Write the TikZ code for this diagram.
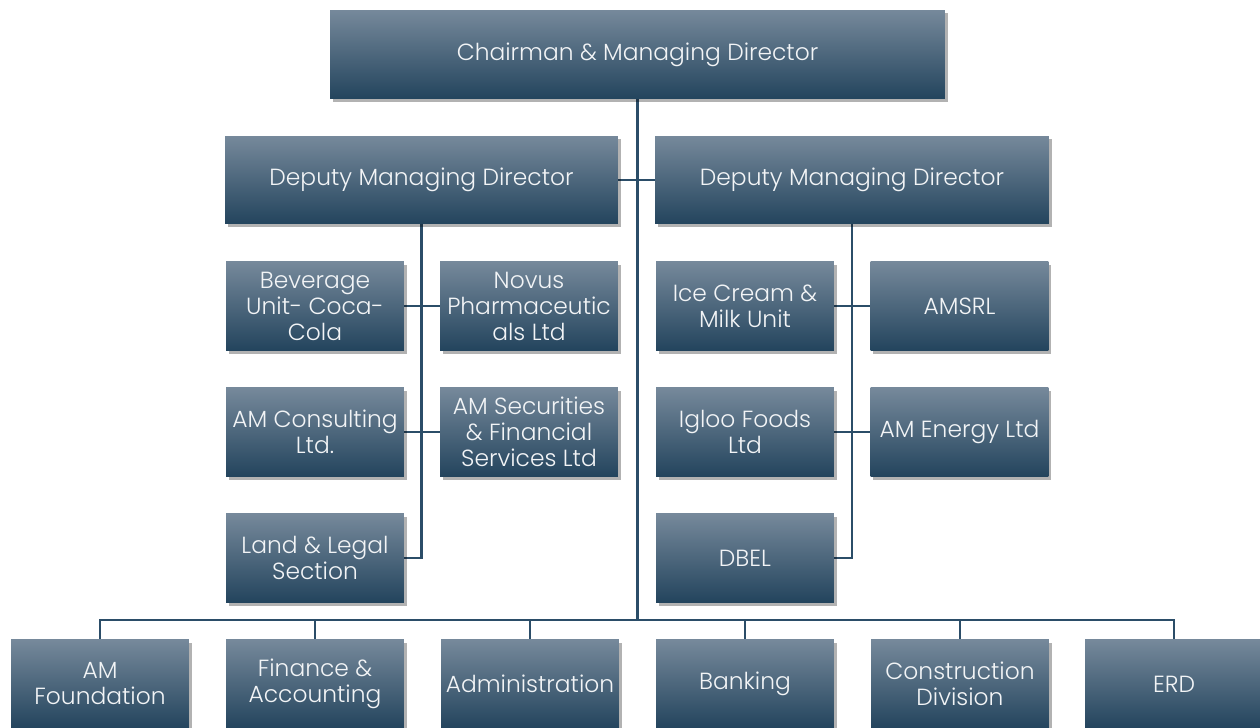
\documentclass[tikz,border=0pt]{standalone}
\usepackage{fontspec}
\setmainfont{Poppins Light}
\usetikzlibrary{shadows,backgrounds}
\definecolor{topc}{HTML}{76899B}
\definecolor{midc}{HTML}{2D506C}
\definecolor{botc}{HTML}{23445D}
\definecolor{linec}{HTML}{2B4D68}
\definecolor{txtc}{HTML}{F2F4F6}
\tikzset{
  orgbox/.style={rectangle, inner sep=1pt, align=center,
    minimum width=3.56cm, minimum height=1.78cm,
    top color=topc, middle color=midc, bottom color=botc,
    text=txtc, font=\fontsize{13.3}{14.8}\selectfont,
    drop shadow={shadow xshift=1.6pt, shadow yshift=-1.8pt, opacity=0.3, fill=black}},
  conn/.style={draw=linec, line width=1.2pt}
}
\begin{document}
\begin{tikzpicture}[x=0.02cm, y=-0.02cm]
\useasboundingbox (0,0) rectangle (1260,727);
% top
\node[orgbox, minimum width=12.3cm] (cmd) at (637.5,54.5) {Chairman \& Managing Director};
\node[orgbox, minimum width=7.86cm, minimum height=1.76cm] (dmdL) at (421.5,180) {Deputy Managing Director};
\node[orgbox, minimum width=7.88cm, minimum height=1.76cm] (dmdR) at (852,180) {Deputy Managing Director};
% left group
\node[orgbox] (bev) at (315,306) {Beverage\\Unit- Coca-\\Cola};
\node[orgbox] (nov) at (529,306) {Novus\\Pharmaceutic\\als Ltd};
\node[orgbox] (cons) at (315,432) {AM Consulting\\Ltd.};
\node[orgbox] (sec) at (529,432) {AM Securities\\\& Financial\\Services Ltd};
\node[orgbox] (land) at (315,558) {Land \& Legal\\Section};
% right group
\node[orgbox] (ice) at (745,306) {Ice Cream \&\\Milk Unit};
\node[orgbox] (amsrl) at (959.5,306) {AMSRL};
\node[orgbox] (igloo) at (745,432) {Igloo Foods\\Ltd};
\node[orgbox] (energy) at (959.5,432) {AM Energy Ltd};
\node[orgbox] (dbel) at (745,558) {DBEL};
% bottom row
\node[orgbox] (found) at (100,684) {AM\\Foundation};
\node[orgbox] (fin) at (315,684) {Finance \&\\Accounting};
\node[orgbox] (adm) at (530,684) {Administration};
\node[orgbox] (bank) at (745,684) {Banking};
\node[orgbox] (constr) at (960,684) {Construction\\Division};
\node[orgbox] (erd) at (1174,684) {ERD};
\coordinate (bus) at (637.5,620);
\begin{scope}[on background layer]
\draw[conn] (cmd.south) -- (bus);
\draw[conn] (dmdL.east) -- (dmdR.west);
\draw[conn] (dmdL.south) |- (land.east);
\draw[conn] (bev.east) -- (nov.west);
\draw[conn] (cons.east) -- (sec.west);
\draw[conn] (dmdR.south) |- (dbel.east);
\draw[conn] (ice.east) -- (amsrl.west);
\draw[conn] (igloo.east) -- (energy.west);
\foreach \b in {found,fin,adm,bank,constr,erd}
  \draw[conn] (bus) -| (\b.north);
\end{scope}
\end{tikzpicture}
\end{document}
